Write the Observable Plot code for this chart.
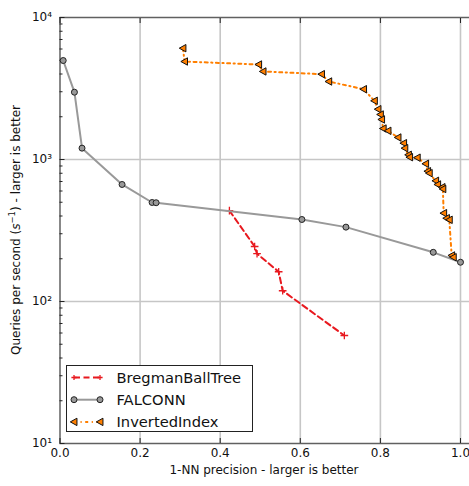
<!DOCTYPE html>
<html><head><meta charset="utf-8">
<script src="https://cdn.jsdelivr.net/npm/d3@7"></script>
<script src="https://cdn.jsdelivr.net/npm/@observablehq/plot@0.6"></script>
<style>
body{margin:0;background:#fff;}
#chart svg{font-family:"DejaVu Sans",sans-serif;}
</style>
</head><body><div id="chart"></div>
<script>
// ---- data ----
const bregmanPrecision = [0.423, 0.486, 0.492, 0.546, 0.556, 0.710];
const bregmanQps       = [437, 244, 217, 162, 119, 57.6];

const falconnPrecision = [0.008, 0.036, 0.055, 0.155, 0.230, 0.240, 0.604, 0.714, 0.932, 1.000];
const falconnQps       = [4977, 2978, 1202, 667, 498, 496, 378, 334, 222, 189];

const invertedPrecision = [0.307, 0.311, 0.496, 0.507, 0.653, 0.671, 0.758, 0.785, 0.794, 0.800, 0.803, 0.807, 0.819, 0.844, 0.858, 0.861, 0.870, 0.873, 0.892, 0.913, 0.918, 0.922, 0.938, 0.943, 0.954, 0.956, 0.958, 0.965, 0.972, 0.978, 0.982];
const invertedQps       = [6080, 4898, 4667, 4169, 3990, 3542, 3127, 2590, 2261, 2075, 1914, 1653, 1592, 1429, 1303, 1202, 1079, 1038, 1030, 933, 827, 801, 708, 667, 638, 620, 419, 386, 376, 211, 205];

const seriesNames = ["BregmanBallTree", "FALCONN", "InvertedIndex"];
const xTicks = [0.0, 0.2, 0.4, 0.6, 0.8, 1.0];
const yTicks = [10, 100, 1000, 10000];
const yMinor = [20,30,40,50,60,70,80,90,200,300,400,500,600,700,800,900,2000,3000,4000,5000,6000,7000,8000,9000];
const xLabel = "1-NN precision - larger is better";

// ---- styling ----
const RED = "#e8191f", GREY = "#999999", ORANGE = "#ff7f00";
const GRID = "#c6c6c6", SPINE = "#606060";
const DASH_RED = "6,3.5", DASH_ORANGE = "3,3.5,1.2,3.5";
const TRI_R = 3.7;
const sup = {"1":"¹","2":"²","3":"³","4":"⁴"};

const toRows = (xs, ys) => xs.map((x, i) => ({x, y: ys[i]}));
const bregman = toRows(bregmanPrecision, bregmanQps);
const falconn = toRows(falconnPrecision, falconnQps);
const inverted = toRows(invertedPrecision, invertedQps);

const triangleLeft = {
  draw(ctx, size) {
    const r = Math.sqrt(size / Math.PI);
    ctx.moveTo(-r, 0);
    ctx.lineTo(r * 0.8, -r);
    ctx.lineTo(r * 0.8, r);
    ctx.closePath();
  }
};

const chart = Plot.plot({
  width: 469, height: 486,
  marginLeft: 59.5, marginRight: 0, marginTop: 17, marginBottom: 43,
  style: {fontFamily: "DejaVu Sans", fontSize: "12px", background: "white", overflow: "visible"},
  x: {domain: [0, 1.0225], axis: null},
  y: {type: "log", domain: [10, 10000], axis: null},
  marks: [
    Plot.ruleX(xTicks.slice(1), {stroke: GRID, strokeWidth: 1.6}),
    Plot.ruleY([100, 1000], {stroke: GRID, strokeWidth: 1.6}),
    Plot.ruleY([10, 10000], {stroke: SPINE, strokeWidth: 1.5}),
    Plot.ruleX([0], {stroke: SPINE, strokeWidth: 1.5}),
    // inward ticks
    Plot.axisY({anchor: "left", ticks: yMinor, tickSize: -3, tickFormat: () => "", stroke: "#222", label: null}),
    Plot.axisY({anchor: "left", ticks: yTicks, tickSize: -5, tickFormat: () => "", stroke: "#222", label: null}),
    Plot.axisY({anchor: "left", ticks: yTicks, tickSize: 0, tickPadding: 8, fontSize: 12, fill: "#111", label: null,
      tickFormat: d => "10" + sup[String(Math.round(Math.log10(d)))]}),
    Plot.axisX({anchor: "bottom", ticks: xTicks, tickSize: -5, tickFormat: () => "", stroke: "#222", label: null}),
    Plot.axisX({anchor: "top", ticks: xTicks, tickSize: -5, tickFormat: () => "", stroke: "#222", label: null}),
    Plot.axisX({anchor: "bottom", ticks: xTicks, tickSize: 0, tickPadding: 5, fontSize: 12, fill: "#111",
      tickFormat: d3.format(".1f"), label: null}),
    // series
    Plot.line(bregman, {x: "x", y: "y", stroke: RED, strokeWidth: 2, strokeDasharray: DASH_RED}),
    Plot.dot(bregman, {x: "x", y: "y", symbol: "plus", stroke: RED, r: 2.6, strokeWidth: 1.3}),
    Plot.line(falconn, {x: "x", y: "y", stroke: GREY, strokeWidth: 2}),
    Plot.dot(falconn, {x: "x", y: "y", fill: GREY, stroke: "#222", strokeWidth: 1, r: 3}),
    Plot.line(inverted, {x: "x", y: "y", stroke: ORANGE, strokeWidth: 2, strokeDasharray: DASH_ORANGE}),
    Plot.dot(inverted, {x: "x", y: "y", symbol: triangleLeft, fill: ORANGE, stroke: "#111", strokeWidth: 1, r: TRI_R})
  ]
});
document.getElementById("chart").appendChild(chart);

// axis titles and legend
const svg = d3.select(chart);
svg.append("text").attr("x", 264).attr("y", 474).attr("text-anchor", "middle")
  .attr("font-size", 12).attr("fill", "#111").text(xLabel);

const yl = svg.append("text").attr("transform", "translate(20,230) rotate(-90)")
  .attr("text-anchor", "middle").attr("font-size", 12).attr("fill", "#111");
yl.append("tspan").text("Queries per second (");
yl.append("tspan").attr("font-style", "italic").text("s");
yl.append("tspan").attr("font-size", 8.5).attr("dy", -5).text("−1");
yl.append("tspan").attr("dy", 5).text(") - larger is better");

const lg = svg.append("g").attr("text-anchor", "start");
lg.append("rect").attr("x", 66.5).attr("y", 365.5).attr("width", 186).attr("height", 66)
  .attr("fill", "white").attr("stroke", "#222").attr("stroke-width", 1);
const entries = [
  {name: seriesNames[0], color: RED, dash: DASH_RED, kind: "plus"},
  {name: seriesNames[1], color: GREY, dash: null, kind: "circle"},
  {name: seriesNames[2], color: ORANGE, dash: DASH_ORANGE, kind: "tri"}
];
entries.forEach((e, i) => {
  const y = 377.5 + i * 22.2;
  lg.append("line").attr("x1", 74).attr("x2", 100).attr("y1", y).attr("y2", y)
    .attr("stroke", e.color).attr("stroke-width", 2).attr("stroke-dasharray", e.dash);
  [74, 100].forEach(cx => {
    if (e.kind === "plus") {
      lg.append("path").attr("d", `M${cx-2.6},${y}h5.2M${cx},${y-2.6}v5.2`).attr("stroke", e.color).attr("stroke-width", 1.3);
    } else if (e.kind === "circle") {
      lg.append("circle").attr("cx", cx).attr("cy", y).attr("r", 3).attr("fill", GREY).attr("stroke", "#222");
    } else {
      lg.append("path").attr("d", `M${cx-TRI_R},${y}L${cx+TRI_R*0.8},${y-TRI_R}L${cx+TRI_R*0.8},${y+TRI_R}Z`).attr("fill", ORANGE).attr("stroke", "#111");
    }
  });
  lg.append("text").attr("x", 116.5).attr("y", y).attr("dy", "0.36em").attr("font-size", 14.7)
    .attr("fill", "#111").text(e.name);
});
</script>
</body></html>
